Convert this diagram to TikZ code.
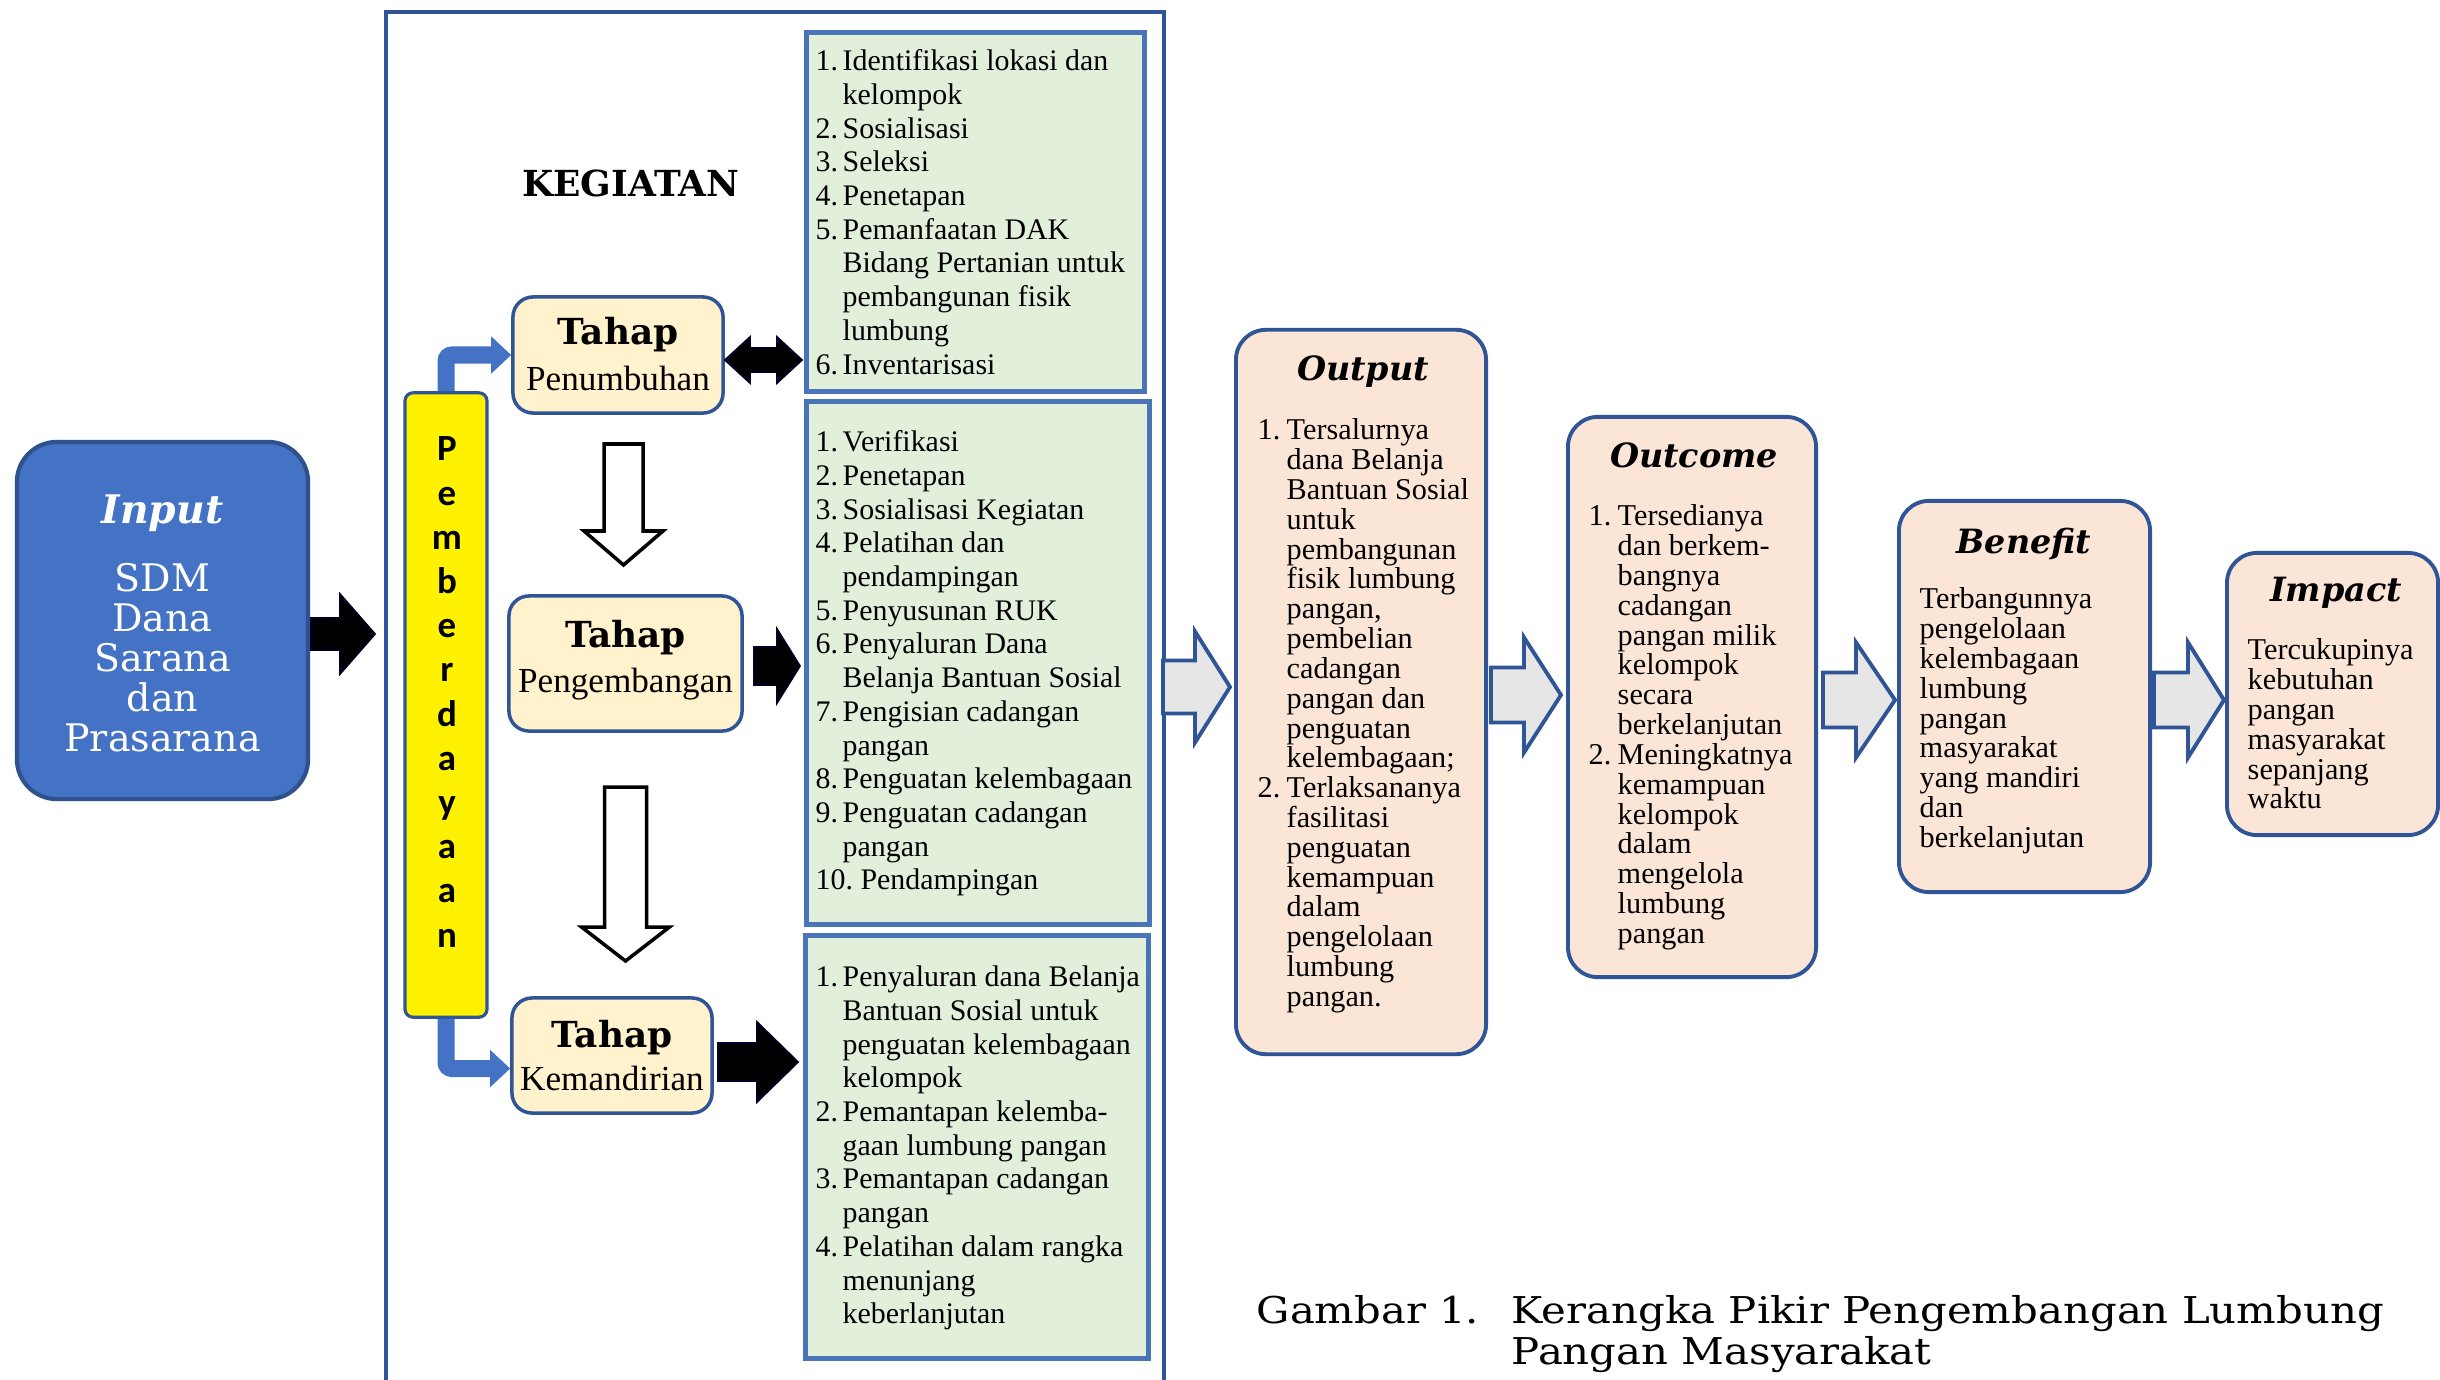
\documentclass[tikz,border=0pt]{standalone}
\usepackage{fontspec}
\setmainfont{Liberation Serif}
\newfontfamily\dvs{DejaVu Serif}
\newfontfamily\carl{Carlito}
\usetikzlibrary{arrows.meta}
\definecolor{inblue}{HTML}{4472C4}
\definecolor{dkblue}{HTML}{2F528F}
\definecolor{tblue}{HTML}{2F5597}
\definecolor{tyellow}{HTML}{FFF2CC}
\definecolor{ggreen}{HTML}{E2EFDA}
\definecolor{gborder}{HTML}{4A74B8}
\definecolor{peach}{HTML}{FBE5D6}
\definecolor{lgray}{HTML}{E7E6E6}
\newcommand\NumA[1]{\makebox[0.27cm][l]{#1}}
\newcommand\IndA{\hspace*{0.27cm}}
\newcommand\NumB[1]{\makebox[0.29cm][l]{#1}}
\newcommand\IndB{\hspace*{0.29cm}}
\newcommand\Fst{\rule{0pt}{8pt}}
\newcommand\ArrR[7]{\draw[#1] (#2,{#5-#6}) -- (#3,{#5-#6}) -- (#3,{#5-#7}) -- (#4,#5) -- (#3,{#5+#7}) -- (#3,{#5+#6}) -- (#2,{#5+#6}) -- cycle;}
\newcommand\ArrD[7]{\draw[#1] ({#2-#6},#3) -- ({#2-#6},#4) -- ({#2-#7},#4) -- (#2,#5) -- ({#2+#7},#4) -- ({#2+#6},#4) -- ({#2+#6},#3) -- cycle;}
\newcommand\ArrLR[7]{\draw[#1] (#2,#4) -- ({#2+#7},{#4-#6}) -- ({#2+#7},{#4-#5}) -- ({#3-#7},{#4-#5}) -- ({#3-#7},{#4-#6}) -- (#3,#4) -- ({#3-#7},{#4+#6}) -- ({#3-#7},{#4+#5}) -- ({#2+#7},{#4+#5}) -- ({#2+#7},{#4+#6}) -- cycle;}
\tikzset{
  kegbox/.style={draw=tblue, line width=1.1pt, inner sep=0pt},
  inputbox/.style={draw=dkblue, fill=inblue, line width=1.2pt, rounded corners=0.4cm, inner sep=0pt},
  barbox/.style={draw=tblue, fill=yellow, line width=0.9pt, rounded corners=0.08cm, inner sep=0pt},
  tahapbox/.style={draw=tblue, fill=tyellow, line width=1pt, rounded corners=0.2cm, inner sep=0pt},
  greenbox/.style={draw=gborder, fill=ggreen, line width=1.4pt, inner sep=0pt},
  resbox/.style={draw=tblue, fill=peach, line width=1.1pt, rounded corners=0.3cm, inner sep=0pt},
  tahapT/.style={anchor=base, inner sep=0pt, font=\dvs\bfseries\fontsize{10.2}{12}\selectfont},
  tahapS/.style={anchor=base, inner sep=0pt, font=\fontsize{10}{12}\selectfont},
  resT/.style={anchor=base, inner sep=0pt, font=\dvs\bfseries\itshape\fontsize{9.5}{12}\selectfont},
  listA/.style={anchor=north west, inner sep=0pt, align=left, font=\fontsize{8.5}{9.58}\selectfont},
  listB/.style={anchor=north west, inner sep=0pt, align=left, font=\fontsize{8.6}{8.48}\selectfont},
  capt/.style={anchor=base west, inner sep=0pt, font=\dvs\fontsize{10.5}{12}\selectfont},
  blk/.style={fill=black, draw=black!85!blue, line width=0.5pt},
  wht/.style={fill=white, draw=black, line width=1pt},
  gry/.style={fill=lgray, draw=tblue, line width=1.1pt, line join=miter},
  elbow/.style={draw=inblue, line width=0.17cm, rounded corners=0.06cm, -{Triangle[width=0.36cm,length=0.2cm]}}
}
\begin{document}
\begin{tikzpicture}[x=0.01cm, y=-0.01cm]
\useasboundingbox (0,0) rectangle (2440,1379);
\fill[white] (0,0) rectangle (2440,1379);
% outer KEGIATAN frame
\node[kegbox, minimum width=7.78cm, minimum height=14cm, anchor=north west] (keg) at (384,10) {};
\node[anchor=base, inner sep=0pt, font=\dvs\bfseries\fontsize{10.2}{12}\selectfont] (kegT) at (631,196) {KEGIATAN};
% input
\node[inputbox, minimum width=2.91cm, minimum height=3.57cm] (inp) at (162.5,620.5) {};
\node[anchor=base, inner sep=0pt, text=white, font=\dvs\bfseries\itshape\fontsize{11.2}{13}\selectfont] (inpT) at (162.5,523) {Input};
\node[anchor=north, inner sep=0pt, text=white, align=center, font=\dvs\fontsize{10.8}{11.32}\selectfont] (inpB) at (162.5,556) {\rule{0pt}{10pt}SDM\\Dana\\Sarana\\dan\\Prasarana};
% pemberdayaan bar
\node[barbox, minimum width=0.82cm, minimum height=6.24cm] (bar) at (446,705) {};
\node[anchor=north, inner sep=0pt, align=center, font=\carl\bfseries\fontsize{10.5}{12.57}\selectfont] (pword) at (447,432) {\Fst P\\e\\m\\b\\e\\r\\d\\a\\y\\a\\a\\n};
% tahap boxes
\node[tahapbox, minimum width=2.10cm, minimum height=1.16cm] (pen) at (618,355) {};
\node[tahapT] (penT) at (618,344) {Tahap};
\node[tahapS] (penS) at (618,390) {Penumbuhan};
\node[tahapbox, minimum width=2.33cm, minimum height=1.35cm] (peng) at (625.5,663.5) {};
\node[tahapT] (pengT) at (625.5,647) {Tahap};
\node[tahapS] (pengS) at (625.5,692) {Pengembangan};
\node[tahapbox, minimum width=2.00cm, minimum height=1.15cm] (kem) at (612,1055.5) {};
\node[tahapT] (kemT) at (612,1047) {Tahap};
\node[tahapS] (kemS) at (612,1090) {Kemandirian};
% elbow arrows
\draw[elbow] (bar.north) |- (pen.west);
\draw[elbow] (bar.south) |- ([yshift=-0.13cm]kem.west);
% green boxes
\node[greenbox, minimum width=3.37cm, minimum height=3.58cm] (g1) at (975.5,212) {};
\node[listA] (g1t) at (815,42) {\Fst\NumA{1.}Identifikasi lokasi dan\\
\IndA kelompok\\
\NumA{2.}Sosialisasi\\
\NumA{3.}Seleksi\\
\NumA{4.}Penetapan\\
\NumA{5.}Pemanfaatan DAK\\
\IndA Bidang Pertanian untuk\\
\IndA pembangunan fisik\\
\IndA lumbung\\
\NumA{6.}Inventarisasi};
\node[greenbox, minimum width=3.42cm, minimum height=5.22cm] (g2) at (978,663) {};
\node[listA] (g2t) at (815,423) {\Fst\NumA{1.}Verifikasi\\
\NumA{2.}Penetapan\\
\NumA{3.}Sosialisasi Kegiatan\\
\NumA{4.}Pelatihan dan\\
\IndA pendampingan\\
\NumA{5.}Penyusunan RUK\\
\NumA{6.}Penyaluran Dana\\
\IndA Belanja Bantuan Sosial\\
\NumA{7.}Pengisian cadangan\\
\IndA pangan\\
\NumA{8.}Penguatan kelembagaan\\
\NumA{9.}Penguatan cadangan\\
\IndA pangan\\
10.\ Pendampingan};
\node[greenbox, minimum width=3.42cm, minimum height=4.22cm] (g3) at (977,1147) {};
\node[listA] (g3t) at (815,958) {\Fst\NumA{1.}Penyaluran dana Belanja\\
\IndA Bantuan Sosial untuk\\
\IndA penguatan kelembagaan\\
\IndA kelompok\\
\NumA{2.}Pemantapan kelemba-\\
\IndA gaan lumbung pangan\\
\NumA{3.}Pemantapan cadangan\\
\IndA pangan\\
\NumA{4.}Pelatihan dalam rangka\\
\IndA menunjang\\
\IndA keberlanjutan};
% black arrows
\ArrR{blk}{311}{340}{375}{634}{16}{40}
\ArrLR{blk}{725}{802}{360}{12}{23}{25}
\ArrR{blk}{754}{777}{800}{666}{19}{37}
\ArrR{blk}{718}{757}{798}{1062}{19}{40}
% white down arrows
\ArrD{wht}{623.5}{444}{531}{565}{19.5}{39.5}
\ArrD{wht}{625.5}{787}{927}{961}{21}{44}
% result boxes
\node[resbox, minimum width=2.50cm, minimum height=7.24cm] (out) at (1361,692) {};
\node[resT] (outT) at (1363,380) {Output};
\node[listB] (outt) at (1257,411) {\Fst\NumB{1.}Tersalurnya\\
\IndB dana Belanja\\
\IndB Bantuan Sosial\\
\IndB untuk\\
\IndB pembangunan\\
\IndB fisik lumbung\\
\IndB pangan,\\
\IndB pembelian\\
\IndB cadangan\\
\IndB pangan dan\\
\IndB penguatan\\
\IndB kelembagaan;\\
\NumB{2.}Terlaksananya\\
\IndB fasilitasi\\
\IndB penguatan\\
\IndB kemampuan\\
\IndB dalam\\
\IndB pengelolaan\\
\IndB lumbung\\
\IndB pangan.};
\node[resbox, minimum width=2.48cm, minimum height=5.60cm] (outc) at (1692,697) {};
\node[resT] (outcT) at (1694,467) {Outcome};
\node[listB] (outct) at (1588,497) {\Fst\NumB{1.}Tersedianya\\
\IndB dan berkem-\\
\IndB bangnya\\
\IndB cadangan\\
\IndB pangan milik\\
\IndB kelompok\\
\IndB secara\\
\IndB berkelanjutan\\
\NumB{2.}Meningkatnya\\
\IndB kemampuan\\
\IndB kelompok\\
\IndB dalam\\
\IndB mengelola\\
\IndB lumbung\\
\IndB pangan};
\node[resbox, minimum width=2.51cm, minimum height=3.91cm] (ben) at (2024.5,696.5) {};
\node[resT] (benT) at (2024,553) {Benefit};
\node[listB] (bent) at (1919,580) {\Fst Terbangunnya\\pengelolaan\\kelembagaan\\lumbung\\pangan\\masyarakat\\yang mandiri\\dan\\berkelanjutan};
\node[resbox, minimum width=2.11cm, minimum height=2.82cm] (imp) at (2332.5,694) {};
\node[resT] (impT) at (2336,601) {Impact};
\node[listB] (impt) at (2247,631) {\Fst Tercukupinya\\kebutuhan\\pangan\\masyarakat\\sepanjang\\waktu};
% gray arrows
\ArrR{gry}{1163}{1195}{1230}{687}{26.5}{55.5}
\ArrR{gry}{1491}{1524}{1561}{695}{27.5}{57.5}
\ArrR{gry}{1823}{1856}{1895}{700}{27.5}{57.5}
\ArrR{gry}{2154}{2188}{2224}{700}{27.5}{57.5}
% caption
\node[capt] (capA) at (1256,1323) {\scalebox{1.13}[1]{Gambar 1.}};
\node[capt] (capB) at (1511,1323) {\scalebox{1.133}[1]{Kerangka Pikir Pengembangan Lumbung}};
\node[capt] (capC) at (1511,1364) {\scalebox{1.133}[1]{Pangan Masyarakat}};
\end{tikzpicture}
\end{document}
